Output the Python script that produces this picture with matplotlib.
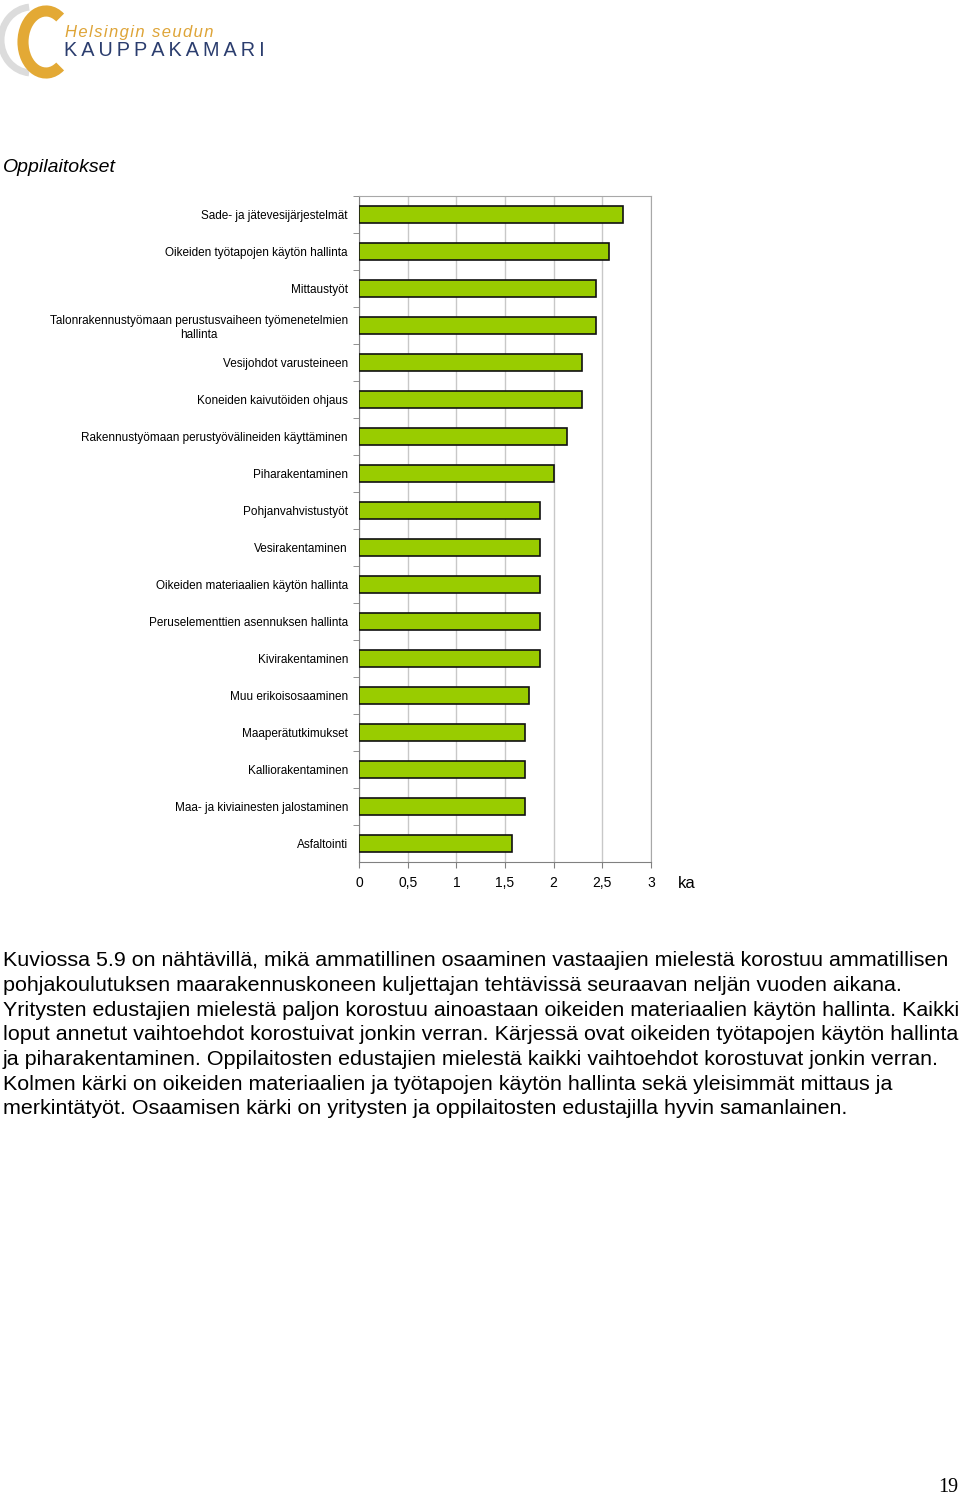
import matplotlib
matplotlib.use("Agg")
import matplotlib.pyplot as plt
from matplotlib.patches import Arc

plt.rcParams['font.family'] = ['Liberation Sans', 'DejaVu Sans']

categories = [
    "Sade- ja jätevesijärjestelmät",
    "Oikeiden työtapojen käytön hallinta",
    "Mittaustyöt",
    "Talonrakennustyömaan perustusvaiheen työmenetelmien\nhallinta",
    "Vesijohdot varusteineen",
    "Koneiden kaivutöiden ohjaus",
    "Rakennustyömaan perustyövälineiden käyttäminen",
    "Piharakentaminen",
    "Pohjanvahvistustyöt",
    "Vesirakentaminen",
    "Oikeiden materiaalien käytön hallinta",
    "Peruselementtien asennuksen hallinta",
    "Kivirakentaminen",
    "Muu erikoisosaaminen",
    "Maaperätutkimukset",
    "Kalliorakentaminen",
    "Maa- ja kiviainesten jalostaminen",
    "Asfaltointi",
]
values = [2.71, 2.57, 2.43, 2.43, 2.29, 2.29, 2.14, 2.0, 1.86, 1.86,
          1.86, 1.86, 1.86, 1.75, 1.71, 1.71, 1.71, 1.57]
xticks = [0, 0.5, 1, 1.5, 2, 2.5, 3]
xticklabels = ["0", "0,5", "1", "1,5", "2", "2,5", "3"]

paragraph = [
    "Kuviossa 5.9 on nähtävillä, mikä ammatillinen osaaminen vastaajien mielestä korostuu ammatillisen",
    "pohjakoulutuksen maarakennuskoneen kuljettajan tehtävissä seuraavan neljän vuoden aikana.",
    "Yritysten edustajien mielestä paljon korostuu ainoastaan oikeiden materiaalien käytön hallinta. Kaikki",
    "loput annetut vaihtoehdot korostuivat jonkin verran. Kärjessä ovat oikeiden työtapojen käytön hallinta",
    "ja piharakentaminen. Oppilaitosten edustajien mielestä kaikki vaihtoehdot korostuvat jonkin verran.",
    "Kolmen kärki on oikeiden materiaalien ja työtapojen käytön hallinta sekä yleisimmät mittaus ja",
    "merkintätyöt. Osaamisen kärki on yritysten ja oppilaitosten edustajilla hyvin samanlainen.",
]

W, H = 960, 1498
fig = plt.figure(figsize=(W / 100, H / 100), dpi=100)

# page overlay in pixel coordinates
page = fig.add_axes([0, 0, 1, 1])
page.set_xlim(0, W)
page.set_ylim(H, 0)
page.axis('off')

# logo
page.add_patch(Arc((32, 40), 62, 66, theta1=95, theta2=265, color='#dcdcdc', lw=5))
page.add_patch(Arc((46, 42), 46, 62, theta1=60, theta2=300, color='#e3a935', lw=8))
page.text(65, 33, "\u200a".join("Helsingin seudun"), fontsize=12, style='italic', color='#dea437',
          va='center', ha='left')
page.text(64, 51, "\u2009".join("KAUPPAKAMARI"), fontsize=14.3, color='#2b3d6e',
          va='center', ha='left')

page.text(3, 167, "Oppilaitokset", fontsize=14, style='italic', va='center', ha='left')

for i, line in enumerate(paragraph):
    page.text(3, 961 + i * 24.6, line, fontsize=15.45, va='center', ha='left')

page.text(948, 1488, "19", fontsize=14.5, family='Liberation Serif', va='center', ha='center')
page.text(687, 883, "ka", fontsize=12, va='center', ha='center')

# chart
ax = fig.add_axes([359 / W, 1 - 862 / H, 292 / W, 666 / H])
pos = list(range(len(categories)))
ax.barh(pos, values, height=0.48, color='#99cc00', edgecolor='#111111', linewidth=1.2, zorder=3)
ax.set_xlim(0, 3)
ax.set_ylim(len(categories) - 0.5, -0.5)
ax.set_xticks(xticks)
ax.set_xticklabels(xticklabels, fontsize=10)
ax.set_yticks(pos)
ax.set_yticklabels(categories, fontsize=8.5)
for lab in ax.get_yticklabels():
    lab.set_multialignment('center')
ax.set_yticks([p + 0.5 for p in pos[:-1]] + [-0.5], minor=True)
ax.tick_params(axis='y', which='major', length=0, pad=8)
ax.tick_params(axis='y', which='minor', length=4, color='#808080', direction='out')
ax.tick_params(axis='x', length=4, color='#808080', pad=6)
ax.grid(axis='x', color='#c8c8c8', linewidth=1, zorder=0)
for s in ['top', 'right']:
    ax.spines[s].set_color('#a8a8a8')
for s in ['left', 'bottom']:
    ax.spines[s].set_color('#808080')

fig.savefig("out.png", dpi=100)
